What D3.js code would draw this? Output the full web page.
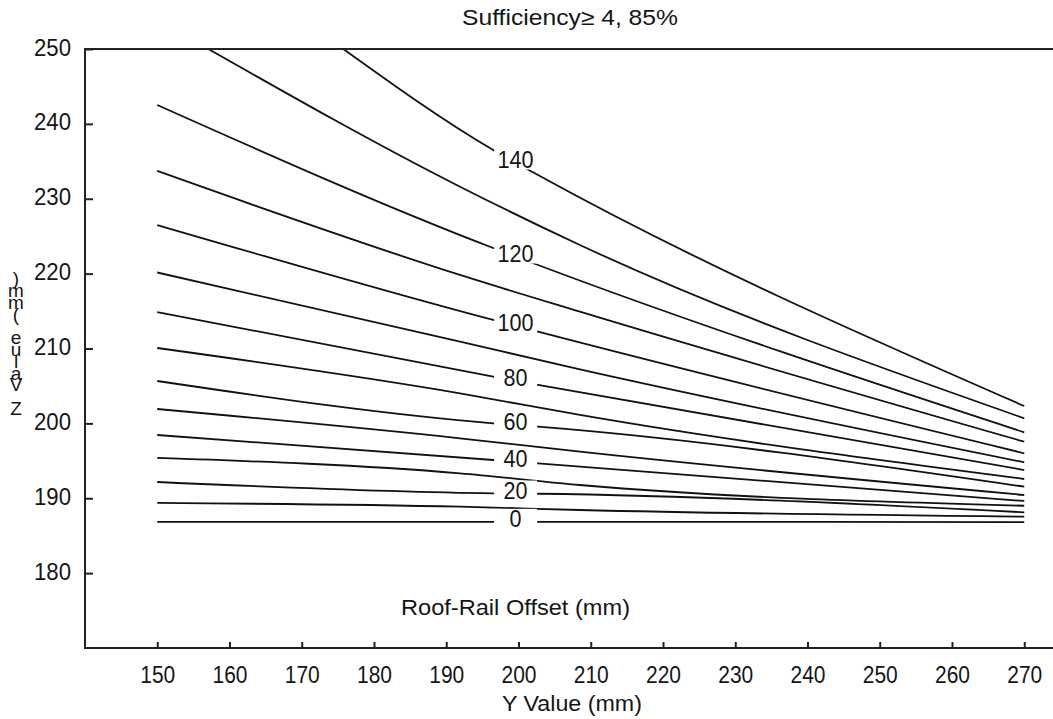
<!DOCTYPE html>
<html><head><meta charset="utf-8">
<script src="https://cdn.jsdelivr.net/npm/d3@7"></script>
<style>
html,body{margin:0;padding:0;background:#fff;}
svg{display:block;}
text{font-family:"Liberation Sans Narrow","Liberation Sans",Arial,sans-serif;fill:#151515;}
</style></head><body>
<svg id="chart" width="1053" height="719"></svg>
<script>
// ---- texts ----
const chartTitle = "Sufficiency\u2265 4, 85%";
const xTitle = "Y Value (mm)";
const yTitle = "Z Value (mm)";
const innerNote = "Roof-Rail Offset (mm)";
// ---- ticks ----
const xTicks = [150,160,170,180,190,200,210,220,230,240,250,260,270];
const yTicks = [180,190,200,210,220,230,240,250];
// ---- contour levels ----
const levels = [0,10,20,30,40,50,60,70,80,90,100,110,120,130,140];
const labelLevels = [0,20,40,60,80,100,120,140];
const labelAtY = 199.6;
// ---- contour points [Y value, Z value] ----
const c0   = [[150,186.85],[191.9,186.85],[208.5,186.85],[270,186.8]];
const c10  = [[150,189.37],[191.9,188.87],[208.5,188.43],[270,187.54]];
const c20  = [[150,192.17],[196.5,190.66],[202.7,190.6],[270,188.12]];
const c30  = [[150,195.38],[191.9,193.33],[208.5,191.77],[270,189.0]];
const c40  = [[150,198.45],[196.5,195.11],[202.7,194.67],[270,189.63]];
const c50  = [[150,201.92],[191.9,198.01],[208.5,196.22],[270,190.43]];
const c60  = [[150,205.66],[196.5,200.01],[202.7,199.56],[270,191.54]];
const c70  = [[150,210.07],[191.9,204.02],[208.5,201.12],[270,192.57]];
const c80  = [[150,214.87],[196.5,206.23],[202.7,205.13],[270,193.77]];
const c90  = [[150,220.15],[191.9,210.91],[208.5,207.22],[270,194.8]];
const c100 = [[150,226.49],[196.5,213.81],[202.7,212.24],[270,196.0]];
const c110 = [[150,233.71],[191.9,219.82],[208.5,214.91],[270,197.55]];
const c120 = [[150,242.52],[196.5,223.42],[202.7,221.15],[270,198.81]];
const c130 = [[157.07,250],[191.9,231.61],[208.5,223.82],[270,200.68]];
const c140 = [[175.75,250],[196.5,236.51],[202.7,233.17],[270,202.32]];
const contourPts = [c0,c10,c20,c30,c40,c50,c60,c70,c80,c90,c100,c110,c120,c130,c140];

const svg = d3.select("#chart");
const x = d3.scaleLinear().domain([140,280]).range([85,1096.5]);
const y = d3.scaleLinear().domain([170,250]).range([648,49]);

// clip
svg.append("clipPath").attr("id","plotClip").append("rect")
  .attr("x",85).attr("y",49).attr("width",1100).attr("height",599);

// contours
const line = d3.line().x(d=>x(d[0])).y(d=>y(d[1])).curve(d3.curveMonotoneX);
const gC = svg.append("g").attr("clip-path","url(#plotClip)");
gC.selectAll("path.contour").data(levels).join("path")
  .attr("class","contour")
  .attr("d",(lv,i)=>line(contourPts[i]))
  .attr("fill","none").attr("stroke","#111").attr("stroke-width",1.8);

// contour labels
const gL = svg.append("g");
labelLevels.forEach(lv=>{
  const pts = contourPts[levels.indexOf(lv)];
  const interp = d3.scaleLinear().domain(pts.map(p=>p[0])).range(pts.map(p=>p[1]));
  const cx = x(labelAtY), cy = y(interp(labelAtY)) - 3;
  gL.append("rect").attr("x",cx-21.5).attr("y",cy-10).attr("width",43).attr("height",20).attr("fill","#fff");
  const t = gL.append("text").attr("x",cx).attr("y",cy+8.5).attr("text-anchor","middle")
    .attr("font-size",23).text(lv);
  const w = String(lv).length*12;
  t.attr("textLength",w).attr("lengthAdjust","spacingAndGlyphs");
});

// frame
svg.append("path").attr("d","M1100,49 H85 V648 H1100")
  .attr("fill","none").attr("stroke","#222").attr("stroke-width",2);

// x axis
const gx = svg.append("g").attr("transform","translate(0,648)")
  .call(d3.axisBottom(x).tickValues(xTicks).tickSize(-6).tickFormat(d3.format("d")));
gx.select(".domain").remove();
gx.selectAll(".tick line").attr("stroke","#222").attr("stroke-width",2);
gx.selectAll(".tick text").attr("y",35).attr("dy",null).attr("font-size",23)
  .attr("font-family",null).attr("fill","#151515")
  .attr("textLength",35).attr("lengthAdjust","spacingAndGlyphs");

// y axis
const gy = svg.append("g").attr("transform","translate(85,0)")
  .call(d3.axisLeft(y).tickValues(yTicks).tickSize(-8).tickFormat(d3.format("d")));
gy.select(".domain").remove();
gy.selectAll(".tick line").attr("stroke","#222").attr("stroke-width",2);
gy.selectAll(".tick text").attr("x",-14).attr("dy",null).attr("y",6).attr("font-size",23)
  .attr("font-family",null).attr("fill","#151515")
  .attr("textLength",37).attr("lengthAdjust","spacingAndGlyphs");

// titles
svg.append("text").attr("x",570).attr("y",25).attr("text-anchor","middle")
  .attr("font-size",22).attr("textLength",216).attr("lengthAdjust","spacingAndGlyphs")
  .text(chartTitle);
svg.append("text").attr("x",572).attr("y",711).attr("text-anchor","middle")
  .attr("font-size",22).attr("textLength",140).attr("lengthAdjust","spacingAndGlyphs")
  .text(xTitle);
svg.append("text").attr("x",515.5).attr("y",615).attr("text-anchor","middle")
  .attr("font-size",22).attr("textLength",229).attr("lengthAdjust","spacingAndGlyphs")
  .text(innerNote);

// y title: vertically stacked, overlapping characters
const chars = Array.from(yTitle);
svg.append("text").attr("font-size",19).attr("text-anchor","middle")
  .attr("x",chars.map(()=>16).join(" "))
  .attr("y",chars.map((c,i)=>(415 - i*11.8).toFixed(1)).join(" "))
  .text(yTitle);
</script>
</body></html>
